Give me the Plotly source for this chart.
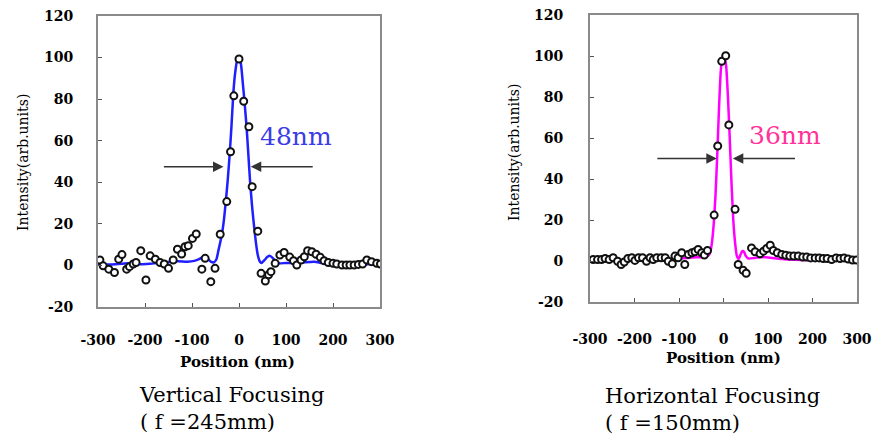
import plotly.graph_objects as go

# ---------------- data ----------------
# Vertical focusing: measured points
v_pts_x = [-296, -289, -277, -265, -256, -249, -239, -233, -225, -219, -209, -198, -189, -178,
           -168, -159, -150, -140, -131, -122, -115, -108, -99, -91, -79, -72, -60, -51, -40,
           -26, -18, -11, 0, 10, 21, 28, 40,
           47, 56, 63, 68, 77, 87, 96, 108, 116, 123, 132, 139, 146, 155, 164, 173, 181, 190,
           200, 208, 219, 228, 236, 245, 254, 263, 272, 282, 293, 301]
v_pts_y = [2.6, -0.2, -1.8, -3.4, 3.0, 5.2, -1.8, -0.6, 0.7, 1.4, 7.1, -7.0, 4.6, 3.0,
           1.4, 0.7, -1.4, 2.6, 7.8, 5.5, 9.0, 9.5, 13.0, 15.1, -1.8, 3.4, -7.8, -1.4, 15.0,
           30.7, 54.7, 81.6, 99.3, 79.0, 66.7, 37.9, 16.5,
           -3.8, -7.5, -4.5, -3.0, 1.0, 5.0, 6.2, 4.0, 2.3, 0.2, 2.6, 4.2, 7.1, 6.6, 5.4, 3.9, 2.3, 1.4,
           1.0, 0.7, 0.2, 0.2, 0.2, 0.2, 0.5, 0.7, 2.6, 1.8, 1.0, 0.7]
# Vertical focusing: fitted curve
v_fit_x = [-300, -270, -250, -230, -210, -190, -170, -150, -130, -110, -95, -85, -76, -68, -60, -54,
           -48, -44, -40, -36, -32, -28, -24, -20, -16, -12, -8, -4, 0, 4, 8, 12, 16, 20, 24, 28,
           32, 36, 40, 44, 48, 54, 60, 66, 72, 78, 86, 100, 120, 140, 160, 180, 200, 240, 270, 300]
v_fit_y = [0.6, 0.5, 0.8, 1.2, 0.6, 0.8, 1.2, 1.6, 2.0, 1.8, 2.2, 3.0, 4.2, 3.5, 1.8, 1.4,
           3.0, 7.0, 11.0, 15.5, 22.0, 31.0, 41.0, 53.0, 67.0, 83.0, 93.0, 98.5, 99.0, 97.0, 88.0, 78.0, 67.0, 53.0, 39.0, 28.0,
           19.0, 11.0, 5.0, 2.0, 1.2, 2.5, 4.0, 4.6, 3.5, 1.8, 1.0, 1.2, 1.0, 1.5, 1.8, 1.0, 0.6, 0.4, 0.6, 0.6]

# Horizontal focusing: measured points
h_pts_x = [-293, -283, -274, -266, -257, -248, -238, -230, -223, -215, -206, -199, -191, -182,
           -173, -165, -158, -150, -140, -131, -124, -115, -109, -102, -94, -87, -79, -71, -64,
           -57, -49, -43, -36,
           -21, -13, -4, 5, 12, 26,
           33, 44, 51, 63, 71, 82, 90, 97, 105, 112, 121, 131, 140, 149, 158, 168, 178, 187,
           196, 206, 215, 224, 233, 243, 253, 262, 271, 280, 290, 299]
h_pts_y = [0.7, 0.7, 0.7, 1.2, 0.7, 1.6, -0.1, -1.7, -0.5, 1.2, 1.6, 0.3, 1.6, 1.6,
           -0.1, 1.6, 0.7, 1.6, 1.6, 1.6, -0.1, -1.4, 2.4, 1.6, 4.0, -1.7, 3.2, 4.0, 4.5,
           5.6, 4.0, 2.9, 5.1,
           22.4, 56.1, 97.4, 100.1, 66.4, 25.2,
           -1.7, -4.5, -6.0, 6.4, 4.5, 3.5, 4.8, 6.1, 7.7, 5.1, 4.0, 3.2, 2.8, 2.4, 2.4, 2.4, 1.9, 1.9,
           1.5, 1.5, 1.5, 1.2, 1.2, 0.7, 1.5, 1.2, 1.5, 1.0, 0.5, 0.5]
# Horizontal focusing: fitted curve
h_fit_x = [-300, -250, -200, -150, -100, -80, -60, -45, -35, -30, -26, -22, -18, -14, -10, -6, -2,
           2, 6, 10, 14, 18, 22, 26, 30, 34, 38, 42, 46, 50, 56, 70, 90, 110, 130, 160, 200, 300]
h_fit_y = [0.2, 0.3, 0.5, 0.8, 1.2, 1.5, 1.8, 2.0, 2.5, 4.0, 9.0, 18.0, 32.0, 52.0, 75.0, 93.0, 99.5,
           99.5, 95.0, 80.0, 60.0, 38.0, 20.0, 9.0, 2.5, 1.0, 3.0, 4.8, 4.5, 2.5, 1.2, 1.5, 2.0, 1.5, 1.0, 0.6, 0.4, 0.2]

x_tick_vals = [-300, -200, -100, 0, 100, 200, 300]
x_tick_text = ["-300", "-200", "-100", "0", "100", "200", "300"]
y_tick_vals = [-20, 0, 20, 40, 60, 80, 100, 120]
y_tick_text = ["-20", "0", "20", "40", "60", "80", "100", "120"]

fwhm_labels = ["48nm", "36nm"]
captions = [["Vertical Focusing", "( f =245mm)"], ["Horizontal Focusing", "( f =150mm)"]]
x_title = "Position (nm)"
y_title = "Intensity(arb.units)"

# ---------------- figure ----------------
W, H = 873, 437
SERIF = "DejaVu Serif"
BLUE = "#1f1fff"
MAGENTA = "#ff00ff"
PINK = "#ff3399"

def px(x):
    return x / W

def py(y):
    return 1 - y / H

fig = go.Figure()

marker_style = dict(symbol="circle", size=7, color="white", line=dict(color="#111111", width=2))

fig.add_trace(go.Scatter(x=v_fit_x, y=v_fit_y, mode="lines", line=dict(color=BLUE, width=2.5, shape="spline", smoothing=0.5),
                         xaxis="x", yaxis="y", showlegend=False))
fig.add_trace(go.Scatter(x=v_pts_x, y=v_pts_y, mode="markers", marker=marker_style,
                         xaxis="x", yaxis="y", showlegend=False))
fig.add_trace(go.Scatter(x=h_fit_x, y=h_fit_y, mode="lines", line=dict(color=MAGENTA, width=2.5, shape="spline", smoothing=0.5),
                         xaxis="x2", yaxis="y2", showlegend=False))
fig.add_trace(go.Scatter(x=h_pts_x, y=h_pts_y, mode="markers", marker=marker_style,
                         xaxis="x2", yaxis="y2", showlegend=False))

tickfont = dict(family=SERIF, size=14, color="black", weight="bold")
axis_common = dict(showline=True, mirror=True, linecolor="#8a8a8a", linewidth=2,
                   ticks="inside", ticklen=4, tickcolor="#555555", tickwidth=1,
                   showgrid=False, zeroline=False, tickfont=tickfont, fixedrange=True,
                   automargin=False)

fig.update_layout(
    width=W, height=H, autosize=False,
    margin=dict(l=0, r=0, t=0, b=0),
    paper_bgcolor="white", plot_bgcolor="white",
    xaxis=dict(domain=[px(98), px(380)], range=[-300, 300], anchor="y",
               tickvals=x_tick_vals, ticktext=x_tick_text, ticklabelstandoff=19, **axis_common),
    yaxis=dict(domain=[py(307), py(16)], range=[-20, 120], anchor="x",
               tickvals=y_tick_vals, ticktext=y_tick_text, ticklabelstandoff=20, **axis_common),
    xaxis2=dict(domain=[px(590), px(857)], range=[-300, 300], anchor="y2",
                tickvals=x_tick_vals, ticktext=x_tick_text, ticklabelstandoff=23, **axis_common),
    yaxis2=dict(domain=[py(302), py(15)], range=[-20, 120], anchor="x2",
                tickvals=y_tick_vals, ticktext=y_tick_text, ticklabelstandoff=22, **axis_common),
)

ann = []
# axis titles
for (xc, yc) in [(23, 163), (514, 153)]:
    ann.append(dict(text=y_title, x=px(xc), y=py(yc), xref="paper", yref="paper", textangle=-90,
                    showarrow=False, xanchor="center", yanchor="middle",
                    font=dict(family=SERIF, size=14, color="black")))
for (xc, yc) in [(238, 362), (723, 358)]:
    ann.append(dict(text=x_title, x=px(xc), y=py(yc), xref="paper", yref="paper",
                    showarrow=False, xanchor="center", yanchor="middle",
                    font=dict(family=SERIF, size=15, color="black", weight="bold")))
# captions (two lines each, one text block)
for cap, (xl, yc) in zip(captions, [(137, 408), (603, 409)]):
    ann.append(dict(text="<br>".join(cap), x=px(xl), y=py(yc), xref="paper", yref="paper",
                    showarrow=False, xanchor="left", yanchor="middle", align="left",
                    font=dict(family=SERIF, size=21, color="black")))
# FWHM labels
ann.append(dict(text=fwhm_labels[0], x=40, y=62, xref="x", yref="y", showarrow=False,
                xanchor="left", yanchor="middle", font=dict(family=SERIF, size=25, color="#3c3ce6")))
ann.append(dict(text=fwhm_labels[1], x=52, y=61, xref="x2", yref="y2", showarrow=False,
                xanchor="left", yanchor="middle", font=dict(family=SERIF, size=25, color=PINK)))
# FWHM arrows
arrow_style = dict(showarrow=True, text="", arrowhead=2, arrowsize=1.4, arrowwidth=1.5, arrowcolor="#333333")
for (xt, xtail) in [(-33, -163), (25, 160)]:
    ann.append(dict(x=xt, y=47.5, ax=xtail, ay=47.5, xref="x", yref="y", axref="x", ayref="y", **arrow_style))
for (xt, xtail) in [(-15, -152), (21, 164)]:
    ann.append(dict(x=xt, y=50, ax=xtail, ay=50, xref="x2", yref="y2", axref="x2", ayref="y2", **arrow_style))

fig.update_layout(annotations=ann)

fig.write_html("out.html", config={"displayModeBar": False},
               post_script="document.body.style.margin='0px';document.body.style.overflow='hidden';")
